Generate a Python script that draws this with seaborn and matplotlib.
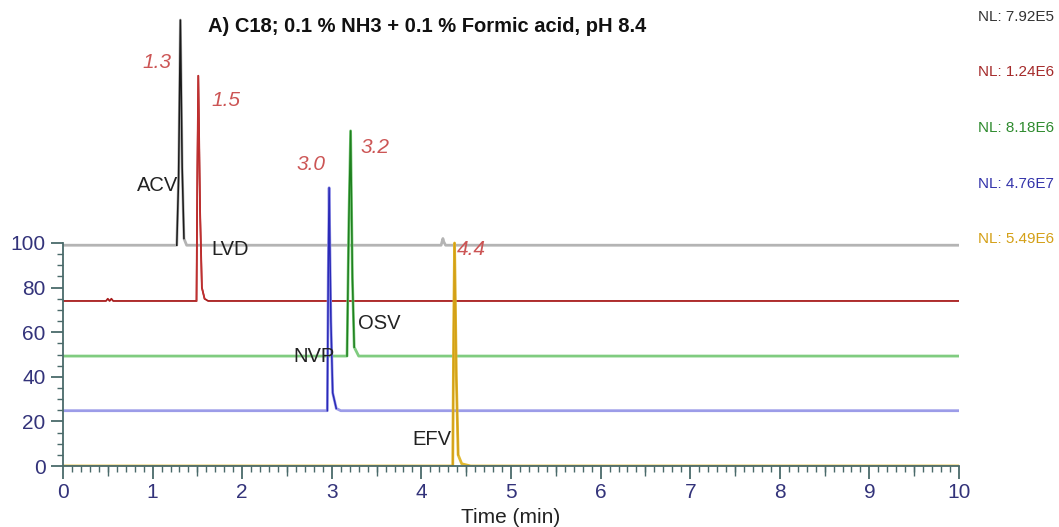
import matplotlib
matplotlib.use("Agg")
import matplotlib.pyplot as plt
import seaborn as sns
import pandas as pd
from matplotlib.ticker import MultipleLocator, FixedLocator

# --- data: retention time (min) and relative intensity (%) per trace ---
acv_t = [0, 1.27, 1.29, 1.31, 1.33, 1.35, 1.38, 4.22, 4.24, 4.25, 4.27, 10]
acv_i = [0, 0, 30, 101, 35, 3, 0, 0, 3, 1.5, 0, 0]

lvd_t = [0, 0.48, 0.50, 0.52, 0.54, 0.56, 1.49, 1.50, 1.51, 1.53, 1.55, 1.58, 1.62, 10]
lvd_i = [0, 0, 1, 0, 1, 0, 0, 60, 101, 40, 6, 1, 0, 0]

osv_t = [0, 3.17, 3.19, 3.21, 3.23, 3.25, 3.30, 10]
osv_i = [0, 0, 60, 101, 35, 4, 0, 0]

nvp_t = [0, 2.95, 2.96, 2.97, 2.99, 3.01, 3.05, 3.10, 10]
nvp_i = [0, 0, 60, 100, 40, 8, 1, 0, 0]

efv_t = [0, 4.35, 4.36, 4.37, 4.39, 4.41, 4.45, 4.55, 10]
efv_i = [0, 0, 60, 100, 40, 5, 1, 0, 0]

names = ["ACV", "LVD", "OSV", "NVP", "EFV"]
offsets = [99, 74, 49.3, 24.8, 0]
rt_labels = ["1.3", "1.5", "3.2", "3.0", "4.4"]
nl_labels = ["NL: 7.92E5", "NL: 1.24E6", "NL: 8.18E6", "NL: 4.76E7", "NL: 5.49E6"]

times = [acv_t, lvd_t, osv_t, nvp_t, efv_t]
intens = [acv_i, lvd_i, osv_i, nvp_i, efv_i]

base_colors = ["#b4b4b4", "#a81c1c", "#80cc80", "#9c9ce8", "#e0b830"]
base_widths = [2, 1.3, 2, 2, 2]
peak_colors = ["#1a1a1a", "#c03030", "#1f801f", "#2a2ab8", "#d4a017"]
nl_colors = ["#333333", "#a52a2a", "#2e8b2e", "#3333aa", "#d4a017"]

# label positions (x in min, y in plot units)
rt_pos = [(1.05, 181), (1.82, 164), (3.48, 143), (2.77, 135), (4.56, 97)]
name_pos = [(1.05, 126), (1.87, 97), (3.53, 64), (2.8, 49), (4.12, 12)]

plt.rcParams["font.family"] = ["Liberation Sans", "DejaVu Sans"]
fig = plt.figure(figsize=(10.59, 5.27), dpi=100)
ax = fig.add_axes([63 / 1059, 61 / 527, 896 / 1059, 466 / 527])

for t, y, off, bc, bw, pc in zip(times, intens, offsets, base_colors, base_widths, peak_colors):
    df = pd.DataFrame({"t": t, "y": [v + off for v in y]})
    sns.lineplot(data=df, x="t", y="y", ax=ax, color=bc, lw=bw, estimator=None, sort=False)
    idx = df.index[df["y"] > off + 5]
    if len(idx):
        seg = df.loc[max(idx.min() - 1, 0):min(idx.max() + 1, len(df) - 1)]
        sns.lineplot(data=seg, x="t", y="y", ax=ax, color=pc, lw=1.1, estimator=None, sort=False)

for (x, y), s in zip(rt_pos, rt_labels):
    ax.text(x, y, s, color="#cc5555", fontsize=15, style="italic", ha="center", va="center")
for (x, y), s in zip(name_pos, names):
    ax.text(x, y, s, color="#222222", fontsize=14.5, ha="center", va="center")

for i, (s, c) in enumerate(zip(nl_labels, nl_colors)):
    fig.text(978 / 1059, 1 - (17 + 55.5 * i) / 527, s, color=c, fontsize=11, va="center")

fig.text(208 / 1059, 1 - 27 / 527, "A) C18; 0.1 % NH3 + 0.1 % Formic acid, pH 8.4",
         fontsize=14.5, fontweight="bold", va="center", color="#111111")

ax.set_xlim(0, 10)
ax.set_ylim(0, 466 / 2.23)
for s in ["top", "right"]:
    ax.spines[s].set_visible(False)
ax.spines["left"].set_bounds(0, 100)
ax.spines["bottom"].set_bounds(0, 10)
for s in ["left", "bottom"]:
    ax.spines[s].set_color("#4a6a6a")
    ax.spines[s].set_linewidth(1.3)

ax.set_yticks([0, 20, 40, 60, 80, 100])
ax.set_xticks(range(0, 11))
ax.xaxis.set_minor_locator(MultipleLocator(0.1))
ax.yaxis.set_minor_locator(FixedLocator([v * 5 for v in range(21)]))
ax.tick_params(which="major", length=9, color="#4a6a6a", labelcolor="#33337a", labelsize=15, width=1.3)
ax.tick_params(which="minor", length=4, color="#4a6a6a", width=1)

# half-minute marks a bit longer
half = ax.secondary_xaxis("bottom")
half.set_xticks([i + 0.5 for i in range(10)])
half.tick_params(length=7, color="#4a6a6a", width=1, labelbottom=False)
half.spines["bottom"].set_visible(False)

ax.set_xlabel("Time (min)", fontsize=15, color="#222222", labelpad=4)
ax.set_ylabel("")

fig.savefig("out.png", dpi=100)
